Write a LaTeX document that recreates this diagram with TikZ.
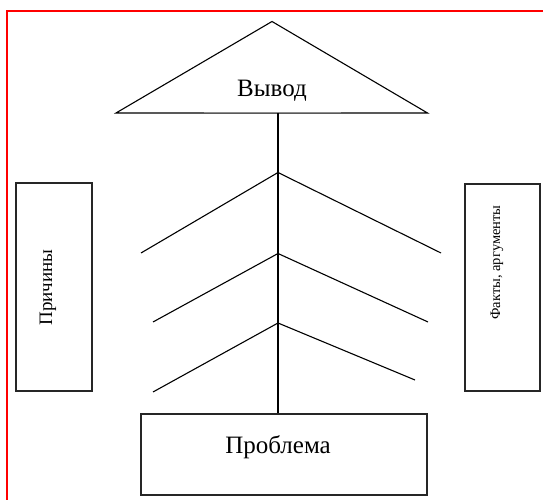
\documentclass[tikz,border=0pt]{standalone}
\usepackage{fontspec}
\setmainfont{Liberation Serif}
\tikzset{
  frameline/.style={draw=red, line width=1.7pt},
  stroke/.style={draw=black, line width=1.1pt},
  boxshape/.style={draw=black!85, line width=1.2pt, inner sep=0pt},
  bigtxt/.style={font=\fontsize{25}{26}\selectfont, inner sep=0pt},
  sidetxt/.style={font=\fontsize{19}{20}\selectfont, inner sep=0pt, rotate=90, anchor=base},
  smalltxt/.style={font=\fontsize{14.5}{15}\selectfont, inner sep=0pt, rotate=90, anchor=base}
}
\begin{document}
\begin{tikzpicture}[x=1pt,y=1pt]
\useasboundingbox (0,0) rectangle (543,500);
% red frame
\draw[frameline] (543,489.3) -- (6.7,489.3) -- (6.7,0);
% triangle
\coordinate (apex) at (272,478.5);
\coordinate (bl) at (116,387);
\coordinate (br) at (427.5,387);
\draw[stroke, line join=miter] (bl) -- (apex) -- (br) -- cycle;
\coordinate (gl) at (204,387);
\coordinate (gr) at (341,387);
\draw[draw=black!45, line width=1pt] (gl) -- (gr);
\node[bigtxt, anchor=base] (vyvod) at (272,403) {Вывод};
% problem box
\node[boxshape, minimum width=286pt, minimum height=81pt] (prob) at (284,45.5) {};
\node[bigtxt, anchor=base] (probtxt) at (278,46) {Проблема};
% stem
\coordinate (stemtop) at (278,387);
\draw[stroke] (stemtop) -- (stemtop |- prob.north);
% chevrons
\coordinate (a1) at (278,327.5);
\coordinate (l1) at (141,247);
\coordinate (r1) at (441,247);
\coordinate (a2) at (278,246.5);
\coordinate (l2) at (153,178);
\coordinate (r2) at (428,178);
\coordinate (a3) at (278,177);
\coordinate (l3) at (153,108);
\coordinate (r3) at (415,120);
\draw[stroke] (l1) -- (a1) -- (r1);
\draw[stroke] (l2) -- (a2) -- (r2);
\draw[stroke] (l3) -- (a3) -- (r3);
% side boxes
\node[boxshape, minimum width=76pt, minimum height=208pt] (left) at (54,213) {};
\node[sidetxt] (lefttxt) at (52,212.5) {Причины};
\node[boxshape, minimum width=75pt, minimum height=207pt] (right) at (502.5,212.5) {};
\node[smalltxt] (righttxt) at (500,237.5) {Факты, аргументы};
\end{tikzpicture}
\end{document}
